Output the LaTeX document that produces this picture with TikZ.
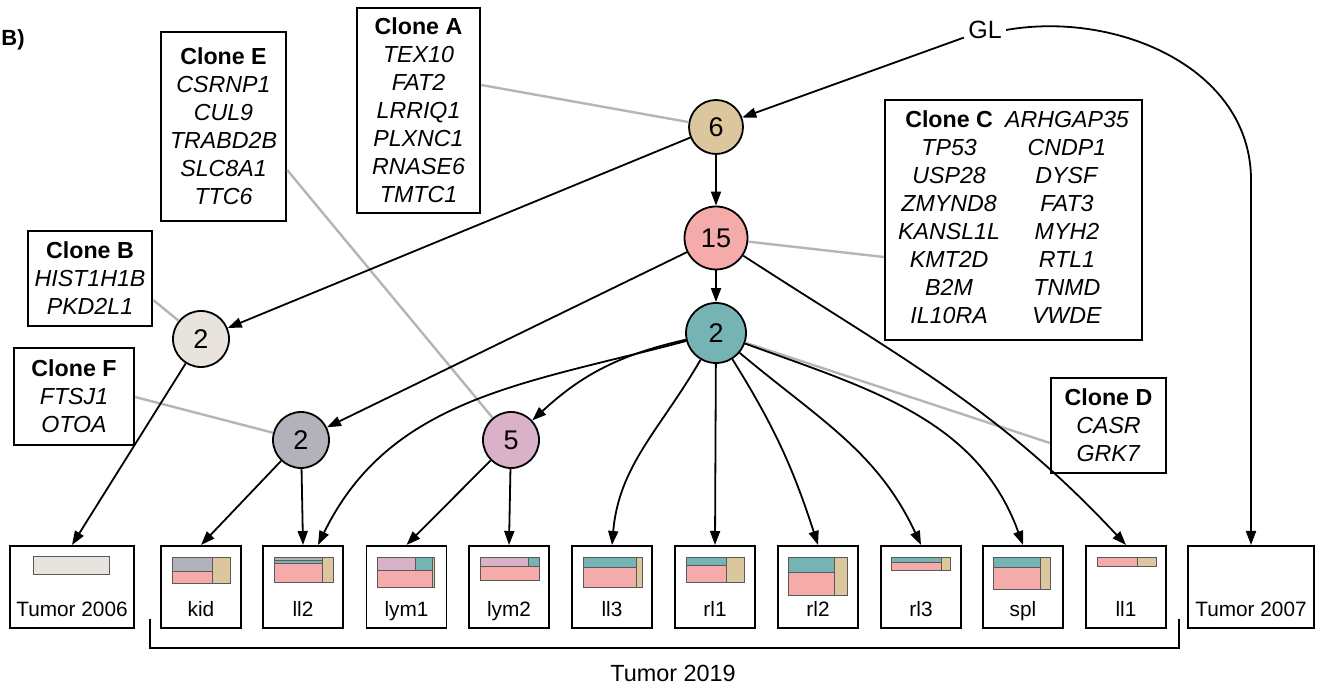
\documentclass[tikz,border=0pt]{standalone}
\usepackage{fontspec}
\setmainfont{Liberation Sans}
\usetikzlibrary{arrows.meta,calc}

\definecolor{ctan}{HTML}{DCC69E}
\definecolor{cpink}{HTML}{F4ABAA}
\definecolor{cteal}{HTML}{76B3B5}
\definecolor{cbeige}{HTML}{E9E3DE}
\definecolor{cgrey}{HTML}{B2B2BC}
\definecolor{cmauve}{HTML}{D9B1C9}
\definecolor{clink}{HTML}{B5B5B5}

\tikzset{
  clone/.style={draw, line width=1.2pt, align=center, inner sep=0pt, font=\fontsize{11.6}{14}\selectfont},
  mut/.style={circle, draw, line width=0.9pt, inner sep=0pt, minimum size=28pt, font=\fontsize{13.5}{14}\selectfont},
  sample/.style={draw, line width=0.8pt, anchor=north, inner sep=0pt, minimum width=40pt, text height=35.5pt, text depth=5.5pt, font=\fontsize{10.4}{12}\selectfont},
  glink/.style={draw=clink, line width=1.2pt},
  arr/.style={->, line width=0.9pt},
  seg/.style={draw=black!65, line width=0.4pt}
}

\begin{document}
\begin{tikzpicture}[x=0.5pt, y=0.5pt, >={Triangle[length=7pt,width=5pt]}]
        \useasboundingbox (0,0) rectangle (1320,683);

        % Panel label
        \node [anchor=west, inner sep=0pt, font=\bfseries\fontsize{11}{13}\selectfont] (panel) at (1,643) {B)};

        % Mutation clusters
        \node [font=\fontsize{12.5}{14}\selectfont, inner sep=2pt] (GL) at (985,653) {GL};
        \node [mut, fill=ctan, minimum size=27pt] (n6) at (716,556) {6};
        \node [mut, fill=cpink, minimum size=31.5pt] (n15) at (716,445) {15};
        \node [mut, fill=cteal, minimum size=30pt] (n2c) at (716,350) {2};
        \node [mut, fill=cbeige] (n2b) at (201,344) {2};
        \node [mut, fill=cgrey] (n2f) at (301,243) {2};
        \node [mut, fill=cmauve] (n5) at (511,243) {5};

        % Clone gene lists
        \node [clone, minimum width=61.5pt, minimum height=102.5pt] (cA) at (418.5,572.5) {\textbf{Clone A}\\\textit{TEX10}\\\textit{FAT2}\\\textit{LRRIQ1}\\\textit{PLXNC1}\\\textit{RNASE6}\\\textit{TMTC1}};
        \node [clone, minimum width=62.5pt, minimum height=94.5pt] (cE) at (223.5,556.5) {\textbf{Clone E}\\\textit{CSRNP1}\\\textit{CUL9}\\\textit{TRABD2B}\\\textit{SLC8A1}\\\textit{TTC6}};
        \node [clone, minimum width=62pt, minimum height=47.5pt] (cB) at (90,404.5) {\textbf{Clone B}\\\textit{HIST1H1B}\\\textit{PKD2L1}};
        \node [clone, minimum width=60pt, minimum height=48.5pt] (cF) at (74,286.5) {\textbf{Clone F}\\\textit{FTSJ1}\\\textit{OTOA}};
        \node [clone, minimum width=57.5pt, minimum height=47.5pt] (cD) at (1108.5,257.5) {\textbf{Clone D}\\\textit{CASR}\\\textit{GRK7}};
        \node [clone, minimum width=128.5pt, minimum height=120pt] (cC) at (1013.5,463) {%
          \begin{tabular}{@{}c@{\hspace{2.5pt}}c@{}}
            \textbf{Clone C} & \textit{ARHGAP35}\\
            \textit{TP53} & \textit{CNDP1}\\
            \textit{USP28} & \textit{DYSF}\\
            \textit{ZMYND8} & \textit{FAT3}\\
            \textit{KANSL1L} & \textit{MYH2}\\
            \textit{KMT2D} & \textit{RTL1}\\
            \textit{B2M} & \textit{TNMD}\\
            \textit{IL10RA} & \textit{VWDE}
          \end{tabular}};

        % Samples
        \node [sample, minimum width=62pt] (t06) at (72,138) {Tumor 2006};
        \node [sample] (kid) at (201,138) {kid};
        \node [sample] (ll2) at (303,138) {ll2};
        \node [sample] (lym1) at (406.5,138) {lym1};
        \node [sample] (lym2) at (509,138) {lym2};
        \node [sample] (ll3) at (612,138) {ll3};
        \node [sample] (rl1) at (715,138) {rl1};
        \node [sample] (rl2) at (818,138) {rl2};
        \node [sample] (rl3) at (921,138) {rl3};
        \node [sample] (spl) at (1023,138) {spl};
        \node [sample] (ll1) at (1126,138) {ll1};
        \node [sample, minimum width=63pt] (t07) at (1251,138) {Tumor 2007};

        % Clone fractions in each sample
        \filldraw [seg, fill=cbeige] (33,127) rectangle (109,109);
        \filldraw [seg, fill=cgrey] (172,126) rectangle (212,112);
        \filldraw [seg, fill=cpink] (172,112) rectangle (212,100);
        \filldraw [seg, fill=ctan] (212,126) rectangle (230,100);
        \filldraw [seg, fill=cgrey] (274,126) rectangle (322,123);
        \filldraw [seg, fill=cteal] (274,123) rectangle (322,120);
        \filldraw [seg, fill=cpink] (274,120) rectangle (322,101);
        \filldraw [seg, fill=ctan] (322,126) rectangle (333,101);
        \filldraw [seg, fill=cmauve] (377,126) rectangle (415,113);
        \filldraw [seg, fill=cteal] (415,126) rectangle (432,113);
        \filldraw [seg, fill=cpink] (377,113) rectangle (432,96);
        \filldraw [seg, fill=ctan] (432,126) rectangle (434,96);
        \filldraw [seg, fill=cmauve] (480,126) rectangle (528,117);
        \filldraw [seg, fill=cteal] (528,126) rectangle (539,117);
        \filldraw [seg, fill=cpink] (480,117) rectangle (539,103);
        \filldraw [seg, fill=cteal] (583,126) rectangle (636,116);
        \filldraw [seg, fill=cpink] (583,116) rectangle (636,96);
        \filldraw [seg, fill=ctan] (636,126) rectangle (642,96);
        \filldraw [seg, fill=cteal] (686,126) rectangle (726,118);
        \filldraw [seg, fill=cpink] (686,118) rectangle (726,101);
        \filldraw [seg, fill=ctan] (726,126) rectangle (744,101);
        \filldraw [seg, fill=cteal] (788,126) rectangle (834,111);
        \filldraw [seg, fill=cpink] (788,111) rectangle (834,88);
        \filldraw [seg, fill=ctan] (834,126) rectangle (847,88);
        \filldraw [seg, fill=cteal] (891,126) rectangle (941,121);
        \filldraw [seg, fill=cpink] (891,121) rectangle (941,113);
        \filldraw [seg, fill=ctan] (941,126) rectangle (950,113);
        \filldraw [seg, fill=cteal] (993,126) rectangle (1040,116);
        \filldraw [seg, fill=cpink] (993,116) rectangle (1040,94);
        \filldraw [seg, fill=ctan] (1040,126) rectangle (1050,94);
        \filldraw [seg, fill=cpink] (1097,126) rectangle (1137,117);
        \filldraw [seg, fill=ctan] (1137,126) rectangle (1156,117);

        % Clone labels to clusters
        \draw [glink] (cA.east |- 0,598) -- (n6);
        \draw [glink] (cE.east |- 0,513) -- (n5);
        \draw [glink] (cC.west |- 0,426) -- (n15);
        \draw [glink] (cB.east |- 0,383) -- (n2b);
        \draw [glink] (cF.east |- 0,286) -- (n2f);
        \draw [glink] (cD.west |- 0,240) -- (n2c);

        % Tree edges
        \coordinate (turn07) at (1251,503);
        \draw [arr] (GL) -- (n6);
        \draw [arr] (GL.east) to[out=10,in=90] (turn07) -- (t07.north);
        \draw [arr] (n6) -- (n15);
        \draw [arr] (n6) -- (n2b);
        \draw [arr] (n15) -- (n2c);
        \draw [arr] (n15) -- (n2f);
        \draw [arr] (n15) to[out=-33,in=133] (ll1.north);
        \draw [arr] (n2b) -- (t06.north);
        \draw [arr] (n2f) -- (kid.north);
        \draw [arr] (n2f) -- (ll2.north);
        \draw [arr] (n5) -- (lym1.north);
        \draw [arr] (n5) -- (lym2.north);
        \draw [arr] (n2c) to[bend right=15] (n5);
        \draw [arr] (n2c) to[out=195,in=64] ($(ll2.north)+(15,0)$);
        \draw [arr] (n2c) to[out=-120,in=85] (ll3.north);
        \draw [arr] (n2c) -- (rl1.north);
        \draw [arr] (n2c) to[out=-58,in=108] (rl2.north);
        \draw [arr] (n2c) to[out=-40,in=115] (rl3.north);
        \draw [arr] (n2c) to[out=-20,in=110] (spl.north);

        % Bracket for the 2019 samples
        \draw [line width=0.9pt] (150,64) -- (150,35) -- (1179,35) -- (1179,64);
        \node [font=\fontsize{11.7}{14}\selectfont] (t19) at (673,10) {Tumor 2019};
    \end{tikzpicture}
\end{document}
